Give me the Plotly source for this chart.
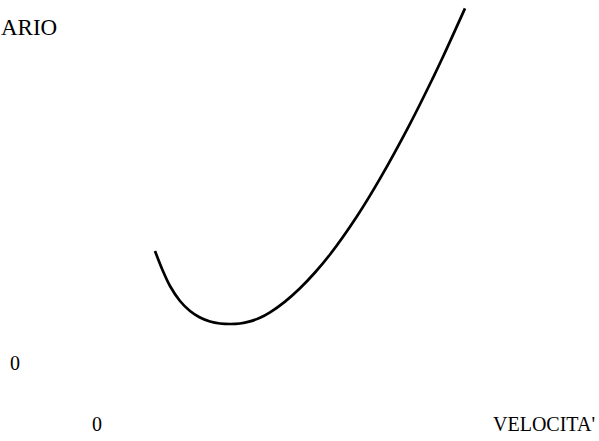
import plotly.graph_objects as go

# Curve: consumption vs speed (arbitrary units)
velocita = [14.5, 16.375, 18.25, 20.75, 23.25, 25.75, 28.25, 30.75, 33.25, 35.75, 38.25, 40.75,
            43.25, 47.0, 50.75, 54.5, 58.25, 65.0, 70.75, 78.25, 84.0, 86.5, 92.0]
consumo = [28.0, 23.25, 19.25, 15.5, 13.0, 11.375, 10.375, 9.875, 9.75, 9.875, 10.4, 11.3,
           12.65, 15.35, 18.69, 22.625, 27.125, 36.7, 46.1, 59.8, 71.3, 76.55, 88.65]

x_label = "VELOCITA'"
y_label = "ARIO"
zero_label = "0"

fig = go.Figure()
fig.add_trace(go.Scatter(x=velocita, y=consumo, mode="lines",
                         line=dict(color="black", width=2.7, shape="spline", smoothing=1.0),
                         showlegend=False, hoverinfo="skip"))

font = dict(family="Liberation Serif, Times New Roman, serif", size=20, color="black")

fig.add_annotation(x=0, y=-15.25, xref="x", yref="y", text=zero_label, showarrow=False,
                   font=font, xanchor="center", yanchor="middle")
fig.add_annotation(x=-20.5, y=0, xref="x", yref="y", text=zero_label, showarrow=False,
                   font=font, xanchor="center", yanchor="middle")
fig.add_annotation(x=125, y=-15.25, xref="x", yref="y", text=x_label, showarrow=False,
                   font=font, xanchor="right", yanchor="middle")
fig.add_annotation(x=-9.4, y=84.0, xref="x", yref="y", text=y_label, showarrow=False,
                   font=dict(family="Liberation Serif, Times New Roman, serif", size=23, color="black"),
                   xanchor="right", yanchor="middle")

fig.update_layout(
    width=599, height=441,
    margin=dict(l=0, r=0, t=0, b=0),
    paper_bgcolor="white", plot_bgcolor="white",
    xaxis=dict(range=[-24.25, 125.5], visible=False, fixedrange=True),
    yaxis=dict(range=[-19.5, 90.75], visible=False, fixedrange=True),
)

fig.write_html("out.html", config={"displayModeBar": False},
               post_script="document.body.style.margin='0';document.body.style.overflow='hidden';")
